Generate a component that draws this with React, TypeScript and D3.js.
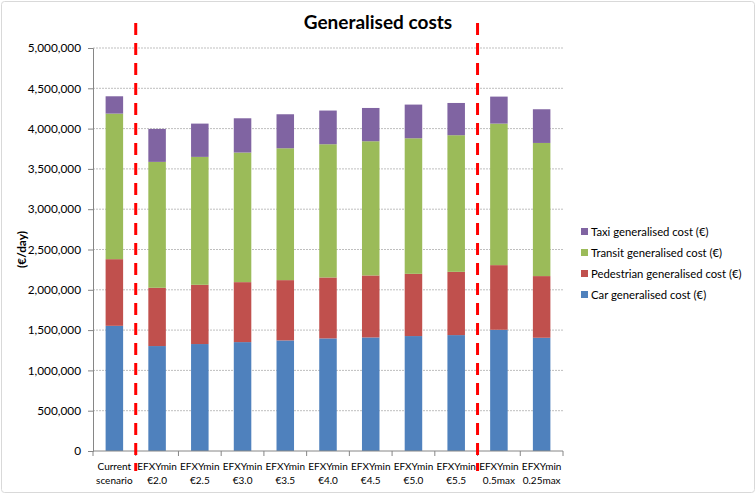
import { useEffect, useRef } from 'react';
import * as d3 from 'd3';

const categories = [
    ['Current', 'scenario'],
    ['EFXYmin', '€2.0'],
    ['EFXYmin', '€2.5'],
    ['EFXYmin', '€3.0'],
    ['EFXYmin', '€3.5'],
    ['EFXYmin', '€4.0'],
    ['EFXYmin', '€4.5'],
    ['EFXYmin', '€5.0'],
    ['EFXYmin', '€5.5'],
    ['EFXYmin', '0.5max'],
    ['EFXYmin', '0.25max'],
];

const carCost = [1553000, 1302000, 1327000, 1351000, 1372000, 1397000, 1409000, 1426000, 1438000, 1504000, 1405000];
const pedestrianCost = [827000, 723000, 735000, 744000, 748000, 756000, 769000, 772000, 785000, 802000, 765000];
const transitCost = [1806000, 1562000, 1587000, 1608000, 1636000, 1653000, 1665000, 1682000, 1695000, 1756000, 1652000];
const taxiCost = [215000, 409000, 413000, 425000, 422000, 418000, 413000, 418000, 400000, 335000, 418000];

const yTicks = [0, 500000, 1000000, 1500000, 2000000, 2500000, 3000000, 3500000, 4000000, 4500000, 5000000];

// dashed separators sit after these category indexes
const separatorsAfter = [0, 8];

const series = [
    { key: 'car', name: 'Car generalised cost (€)', values: carCost, color: '#4F81BD' },
    { key: 'ped', name: 'Pedestrian generalised cost (€)', values: pedestrianCost, color: '#C0504D' },
    { key: 'transit', name: 'Transit generalised cost (€)', values: transitCost, color: '#9BBB59' },
    { key: 'taxi', name: 'Taxi generalised cost (€)', values: taxiCost, color: '#8064A2' },
];

const width = 756;
const height = 494;
const margin = { top: 48, right: 193, bottom: 43, left: 93 };
const font = 'Lato, "Open Sans", sans-serif';

const App = () => {
    const svgRef = useRef<SVGSVGElement>(null);

    useEffect(() => {
        const root = d3.select(svgRef.current);
        root.selectAll('*').remove();

        const innerW = width - margin.left - margin.right;
        const innerH = height - margin.top - margin.bottom;

        root.append('rect')
            .attr('x', 1.5).attr('y', 1.5)
            .attr('width', width - 3).attr('height', height - 3)
            .attr('rx', 3)
            .attr('fill', '#fff')
            .attr('stroke', '#D9D9D9');

        const x = d3.scaleBand<number>()
            .domain(categories.map((_, i) => i))
            .range([0, innerW])
            .paddingInner(0.59)
            .paddingOuter(0.295);

        const y = d3.scaleLinear().domain([0, 5000000]).range([innerH, 0]);

        const g = root.append('g').attr('transform', `translate(${margin.left},${margin.top})`);

        // gridlines
        g.append('g')
            .selectAll('line')
            .data(yTicks.slice(1))
            .join('line')
            .attr('x1', 0).attr('x2', innerW)
            .attr('y1', d => y(d)).attr('y2', d => y(d))
            .attr('stroke', '#BFBFBF')
            .attr('stroke-dasharray', '2,1');

        // stacked bars
        const table = categories.map((_, i) => {
            const row: Record<string, number> = { i };
            series.forEach(s => (row[s.key] = s.values[i]));
            return row;
        });
        const stacked = d3.stack<Record<string, number>>().keys(series.map(s => s.key))(table);

        stacked.forEach((layer, li) => {
            g.append('g')
                .selectAll('rect')
                .data(layer)
                .join('rect')
                .attr('x', d => x(d.data.i) ?? 0)
                .attr('width', x.bandwidth())
                .attr('y', d => y(d[1]))
                .attr('height', d => y(d[0]) - y(d[1]))
                .attr('fill', series[li].color);
        });

        // y axis
        const yAxis = g.append('g')
            .call(d3.axisLeft(y).tickValues(yTicks).tickSize(5).tickPadding(7).tickFormat(d3.format(',')));
        yAxis.select('.domain').attr('stroke', '#868686');
        yAxis.selectAll('.tick line').attr('stroke', '#868686');
        yAxis.selectAll('text')
            .attr('font-family', font)
            .attr('font-size', 11.8)
            .attr('fill', '#000');

        // x axis
        const step = x.step();
        const xAxis = g.append('g').attr('transform', `translate(0,${innerH})`);
        xAxis.append('line')
            .attr('x1', 0).attr('x2', innerW)
            .attr('stroke', '#868686');
        xAxis.selectAll('line.tk')
            .data(d3.range(categories.length + 1))
            .join('line')
            .attr('class', 'tk')
            .attr('x1', d => d * step).attr('x2', d => d * step)
            .attr('y1', 0).attr('y2', 5)
            .attr('stroke', '#868686');
        const labels = xAxis.selectAll('text')
            .data(categories)
            .join('text')
            .attr('font-family', font)
            .attr('font-size', 10)
            .attr('text-anchor', 'middle')
            .attr('transform', (_, i) => `translate(${(x(i) ?? 0) + x.bandwidth() / 2},0)`);
        labels.append('tspan').attr('x', 0).attr('y', 19).text(d => d[0]);
        labels.append('tspan').attr('x', 0).attr('y', 33).text(d => d[1]);

        // separators
        g.append('g')
            .selectAll('line')
            .data(separatorsAfter)
            .join('line')
            .attr('x1', d => (d + 1) * step).attr('x2', d => (d + 1) * step)
            .attr('y1', -25).attr('y2', innerH + 20)
            .attr('stroke', '#FF0000')
            .attr('stroke-width', 3)
            .attr('stroke-dasharray', '12,8');

        // title
        root.append('text')
            .attr('x', 378).attr('y', 29)
            .attr('text-anchor', 'middle')
            .attr('font-family', font)
            .attr('font-weight', 'bold')
            .attr('font-size', 19)
            .text('Generalised costs');

        // y label
        root.append('text')
            .attr('transform', `translate(26,${margin.top + innerH / 2}) rotate(-90)`)
            .attr('text-anchor', 'middle')
            .attr('font-family', font)
            .attr('font-weight', 'bold')
            .attr('font-size', 11.8)
            .text('(€/day)');

        // legend
        const legend = root.append('g').attr('transform', 'translate(581,232)');
        const items = legend.selectAll('g')
            .data(series.slice().reverse())
            .join('g')
            .attr('transform', (_, i) => `translate(0,${i * 21})`);
        items.append('rect')
            .attr('x', 0).attr('y', -4)
            .attr('width', 7).attr('height', 7)
            .attr('fill', d => d.color);
        items.append('text')
            .attr('x', 10).attr('y', 4)
            .attr('font-family', font)
            .attr('font-size', 11.3)
            .text(d => d.name);
    }, []);

    return (
        <div style={{ position: 'absolute', left: 0, top: 0 }}>
            <svg ref={svgRef} width={width} height={height} style={{ display: 'block' }}></svg>
        </div>
    );
};

export default App;
